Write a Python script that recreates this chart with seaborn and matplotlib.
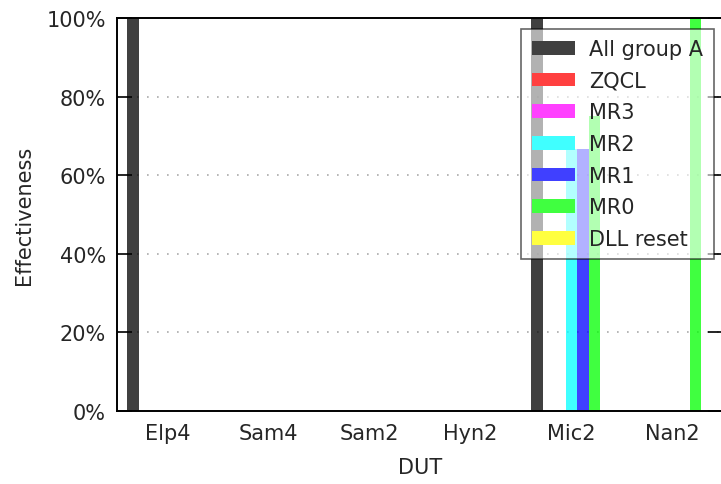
import matplotlib
matplotlib.use("Agg")
import matplotlib.pyplot as plt
import seaborn as sns
import pandas as pd
from matplotlib.ticker import FuncFormatter
from matplotlib.patches import Patch
from matplotlib.colors import to_rgb

duts = ["Elp4", "Sam4", "Sam2", "Hyn2", "Mic2", "Nan2"]
series = ["All group A", "ZQCL", "MR3", "MR2", "MR1", "MR0", "DLL reset"]
colors = ["#000000", "#ff0000", "#ff00ff", "#00ffff", "#0000ff", "#00ff00", "#ffff00"]

all_group_a = [100, 0, 0, 0, 100, 0]
zqcl = [0, 0, 0, 0, 0, 0]
mr3 = [0, 0, 0, 0, 0, 0]
mr2 = [0, 0, 0, 0, 66.7, 0]
mr1 = [0, 0, 0, 0, 66.7, 0]
mr0 = [0, 0, 0, 0, 75, 100]
dll_reset = [0, 0, 0, 0, 0, 0]

values = [all_group_a, zqcl, mr3, mr2, mr1, mr0, dll_reset]
rows = []
for s, vals in zip(series, values):
    for d, v in zip(duts, vals):
        rows.append({"DUT": d, "Series": s, "Effectiveness": v})
df = pd.DataFrame(rows)

sns.set_style("white")
plt.rcParams["font.family"] = ["DejaVu Sans"]
text_color = "#262626"
fs = 15
bar_alpha = 0.75

fig = plt.figure(figsize=(7.21, 4.85), dpi=100)
ax = fig.add_axes([117 / 721, 73 / 485, 606 / 721, 393 / 485])

sns.barplot(data=df, x="DUT", y="Effectiveness", hue="Series",
            hue_order=series, order=duts, palette=colors, alpha=bar_alpha,
            width=0.8, saturation=1, ax=ax, linewidth=0, errorbar=None,
            legend=False)

ax.set_xlim(-0.5, 5.5)
ax.set_ylim(0, 100)
ax.set_yticks([0, 20, 40, 60, 80, 100])
ax.yaxis.set_major_formatter(FuncFormatter(lambda v, p: f"{int(v)}%"))
ax.yaxis.grid(True, linestyle=(0, (1, 5)), color="#aaaaaa", linewidth=1.2)
ax.xaxis.grid(False)
ax.set_axisbelow(True)

ax.tick_params(axis="y", direction="in", length=11, width=1.2, color="black",
               left=True, right=True, labelsize=fs, labelcolor=text_color, pad=8)
ax.tick_params(axis="x", length=0, labelsize=fs, labelcolor=text_color, pad=9)
for sp in ax.spines.values():
    sp.set_visible(True)
    sp.set_color("black")
    sp.set_linewidth(1.4)

ax.set_xlabel("DUT", fontsize=fs, color=text_color, labelpad=10)
ax.set_ylabel("Effectiveness", fontsize=fs, color=text_color, labelpad=9)


def on_white(c, a):
    r, g, b = to_rgb(c)
    return (a * r + 1 - a, a * g + 1 - a, a * b + 1 - a)


handles = [Patch(facecolor=on_white(c, bar_alpha), linewidth=0) for c in colors]
leg = ax.legend(handles, series, loc="upper right", bbox_to_anchor=(0.985, 0.973),
                fontsize=fs, frameon=True, fancybox=False, framealpha=0.6,
                edgecolor="black", handlelength=2.07, handleheight=0.63,
                labelspacing=0.56, borderpad=0.5, handletextpad=0.7,
                borderaxespad=0)
leg.get_frame().set_linewidth(1.2)
for t in leg.get_texts():
    t.set_color(text_color)

fig.savefig("out.png", dpi=100)
